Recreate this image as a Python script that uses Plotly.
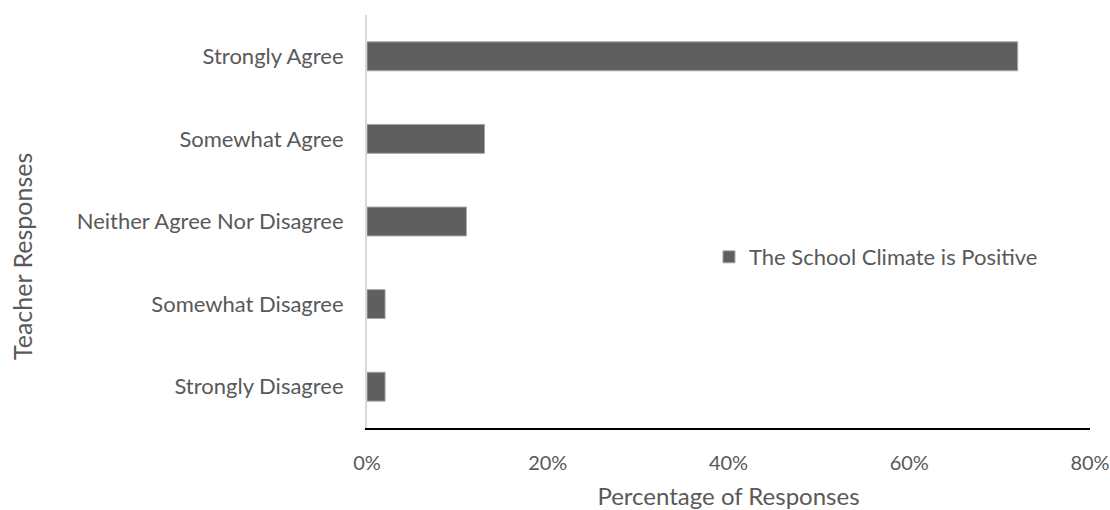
import plotly.graph_objects as go

# Survey responses, listed top to bottom
categories = [
    "Strongly Agree",
    "Somewhat Agree",
    "Neither Agree Nor Disagree",
    "Somewhat Disagree",
    "Strongly Disagree",
]
percent_responses = [72, 13, 11, 2, 2]
series_name = "The School Climate is Positive"
x_ticks = [0, 20, 40, 60, 80]

FONT = "Lato, 'Open Sans', sans-serif"
TEXT = "#595959"

fig = go.Figure(
    go.Bar(
        y=categories,
        x=percent_responses,
        orientation="h",
        name=series_name,
        width=0.35,
        marker=dict(color="#5f5f5f", line=dict(color="#a6a6a6", width=1)),
        showlegend=True,
    )
)

fig.update_layout(
    width=1110,
    height=510,
    margin=dict(l=367, r=20, t=15, b=82),
    paper_bgcolor="white",
    plot_bgcolor="white",
    font=dict(family=FONT, color=TEXT, size=20),
    showlegend=True,
    legend=dict(
        x=0.473,
        y=0.414,
        xanchor="left",
        yanchor="middle",
        font=dict(size=22, color=TEXT),
        bgcolor="rgba(0,0,0,0)",
        itemwidth=30,
    ),
    xaxis=dict(
        range=[0, 80],
        tickvals=x_ticks,
        ticktext=[f"{v}%" for v in x_ticks],
        showgrid=False,
        zeroline=False,
        showline=True,
        linecolor="black",
        linewidth=2,
        ticks="",
        automargin=False,
        ticklabelstandoff=16,
        tickfont=dict(size=20, color=TEXT),
        title=dict(text="Percentage of Responses", font=dict(size=24, color=TEXT), standoff=23),
    ),
    yaxis=dict(
        categoryorder="array",
        categoryarray=categories,
        autorange="reversed",
        showgrid=False,
        zeroline=False,
        showline=True,
        linecolor="#d9d9d9",
        linewidth=2,
        ticks="",
        automargin=False,
        ticklabelstandoff=17,
        tickfont=dict(size=22, color=TEXT),
    ),
    annotations=[
        dict(
            text="Teacher Responses",
            textangle=-90,
            xref="paper",
            yref="paper",
            x=0,
            y=0.414,
            xshift=-345,
            xanchor="center",
            yanchor="middle",
            showarrow=False,
            font=dict(size=25, color=TEXT),
        )
    ],
)

fig.write_html("out.html")
